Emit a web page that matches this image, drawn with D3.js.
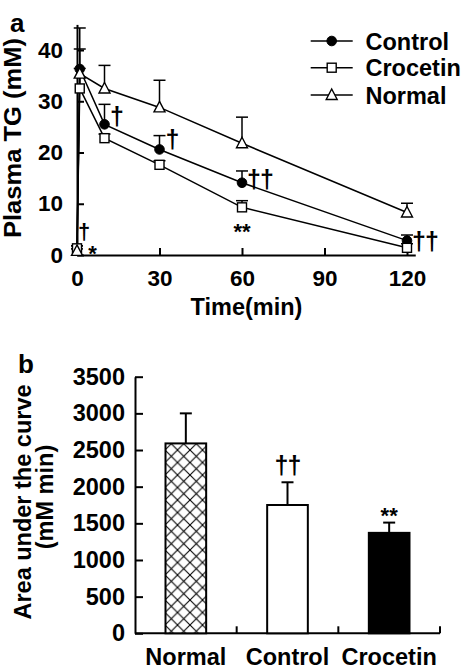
<!DOCTYPE html>
<html>
<head>
<meta charset="utf-8">
<script src="https://cdn.jsdelivr.net/npm/d3@7/dist/d3.min.js"></script>
<style>
  html, body { margin: 0; padding: 0; background: #fff; }
  svg { display: block; }
  text { font-family: "Liberation Sans", Arial, Helvetica, sans-serif; font-weight: bold; fill: #000; }
</style>
</head>
<body>
<svg id="chart" width="465" height="672"></svg>
<script>
// ---------- Data (panel a) ----------
const times = [0, 1, 10, 30, 60, 120];
const controlMean  = [1.2, 36.3, 25.5, 20.6, 14.1, 2.8];
const controlErr   = [0.6, 8.0, 3.9, 2.7, 2.3, 1.1];
const crocetinMean = [1.3, 32.5, 22.8, 17.6, 9.3, 1.4];
const crocetinErr  = [0.5, 7.7, 0.8, 0.8, 1.3, 0.8];
const normalMean   = [0.8, 35.4, 32.5, 28.8, 21.8, 8.3];
const normalErr    = [0.4, 1.0, 4.5, 5.3, 5.1, 1.8];
const seriesNames  = ["Control", "Crocetin", "Normal"];
const xTicksA = [0, 30, 60, 90, 120];
const yTicksA = [0, 10, 20, 30, 40];

// ---------- Data (panel b) ----------
const barCategories = ["Normal", "Control", "Crocetin"];
const aucMean = [2590, 1750, 1370];
const aucErr  = [410, 310, 140];
const yTicksB = [0, 500, 1000, 1500, 2000, 2500, 3000, 3500];

const svg = d3.select("#chart");

// pattern for Normal bar
const defs = svg.append("defs");
const pat = defs.append("pattern")
  .attr("id", "xhatch").attr("patternUnits", "userSpaceOnUse")
  .attr("width", 12.5).attr("height", 12.5).attr("x", 165).attr("y", 0);
pat.append("rect").attr("width", 12.5).attr("height", 12.5).attr("fill", "#fff");
pat.append("path").attr("d", "M0,0L12.5,12.5M12.5,0L0,12.5")
  .attr("stroke", "#000").attr("stroke-width", 1.1).attr("fill", "none");

// ================= Panel a =================
const xA = d3.scaleLinear().domain([0, 123]).range([77, 415.25]);
const yA = d3.scaleLinear().domain([0, 45]).range([255, 24.4]);

const gA = svg.append("g");

const axA_y = gA.append("g").attr("transform", `translate(${xA(0)},0)`)
  .call(d3.axisLeft(yA).tickValues(yTicksA).tickSizeInner(-7).tickSizeOuter(0).tickPadding(14));
const axA_x = gA.append("g").attr("transform", `translate(0,${yA(0)})`)
  .call(d3.axisBottom(xA).tickValues(xTicksA).tickSizeInner(-7).tickSizeOuter(0).tickPadding(15));
[axA_y, axA_x].forEach(a => {
  a.selectAll("path,line").attr("stroke", "#000").attr("stroke-width", 2);
  a.selectAll("text").attr("font-size", 22.5).attr("font-family", null).attr("fill", "#000");
});

const seriesA = [
  {name: "Control",  mean: controlMean,  err: controlErr,  marker: "circle"},
  {name: "Crocetin", mean: crocetinMean, err: crocetinErr, marker: "square"},
  {name: "Normal",   mean: normalMean,   err: normalErr,   marker: "triangle"}
];

const line = d3.line().x(d => xA(d.t)).y(d => yA(d.v));

function drawMarker(g, type, cx, cy) {
  if (type === "circle") {
    g.append("circle").attr("cx", cx).attr("cy", cy).attr("r", 4.8).attr("fill", "#000").attr("stroke", "#000");
  } else if (type === "square") {
    g.append("rect").attr("x", cx - 4.5).attr("y", cy - 4.5).attr("width", 9).attr("height", 9)
      .attr("fill", "#fff").attr("stroke", "#000").attr("stroke-width", 1.4);
  } else {
    g.append("path").attr("d", `M${cx},${cy - 6}L${cx + 5.5},${cy + 4.5}L${cx - 5.5},${cy + 4.5}Z`)
      .attr("fill", "#fff").attr("stroke", "#000").attr("stroke-width", 1.4);
  }
}

// error bars first (behind)
seriesA.forEach(s => {
  times.forEach((t, i) => {
    const x = xA(t), y0 = yA(s.mean[i]), y1 = yA(s.mean[i] + s.err[i]);
    gA.append("line").attr("x1", x).attr("x2", x).attr("y1", y0).attr("y2", y1)
      .attr("stroke", "#000").attr("stroke-width", 1.5);
    gA.append("line").attr("x1", x - 6).attr("x2", x + 6).attr("y1", y1).attr("y2", y1)
      .attr("stroke", "#000").attr("stroke-width", 1.5);
  });
});
// lines
seriesA.forEach(s => {
  gA.append("path").datum(times.map((t, i) => ({t, v: s.mean[i]})))
    .attr("d", line).attr("fill", "none").attr("stroke", "#000").attr("stroke-width", 1.5);
});
// markers
seriesA.forEach(s => {
  times.forEach((t, i) => drawMarker(gA, s.marker, xA(t), yA(s.mean[i])));
});

// significance marks (anchored to data points)
function dagger(g, x, yc, txt, fs) {
  g.append("text").attr("x", x).attr("y", yc + 0.28 * fs).attr("text-anchor", "middle")
    .attr("font-size", fs).attr("font-weight", "normal").attr("letter-spacing", -1).text(txt);
}
function star(g, x, yc, txt, fs) {
  g.append("text").attr("x", x).attr("y", yc + 0.6 * fs).attr("text-anchor", "middle")
    .attr("font-size", fs).text(txt);
}
dagger(gA, xA(10) + 12, yA(controlMean[2]) - 6, "†", 25);
dagger(gA, xA(30) + 12.5, yA(controlMean[3]) - 8, "†", 25);
dagger(gA, xA(60) + 18, yA(controlMean[4]) - 2, "††", 25);
dagger(gA, xA(120) + 18, yA(controlMean[5]) + 2.6, "††", 25);
star(gA, xA(60), yA(crocetinMean[4]) + 18, "**", 22);
dagger(gA, xA(0) + 6.5, yA(controlMean[0]) - 16, "†", 22);
star(gA, xA(0) + 15.5, yA(0) - 7, "*", 22);

// legend
const legY = [41, 67.7, 95];
seriesA.forEach((s, i) => {
  const g = gA.append("g");
  g.append("line").attr("x1", 310.7).attr("x2", 352.7).attr("y1", legY[i]).attr("y2", legY[i])
    .attr("stroke", "#000").attr("stroke-width", 1.5);
  drawMarker(g, s.marker, 331.7, legY[i]);
  g.append("text").attr("x", 365.5).attr("y", legY[i] + 8.5).attr("font-size", 23.5).text(seriesNames[i]);
});

// labels
gA.append("text").attr("x", 10).attr("y", 32).attr("font-size", 26).text("a");
gA.append("text").attr("x", 246.5).attr("y", 315).attr("text-anchor", "middle").attr("font-size", 23.5).text("Time(min)");
gA.append("text").attr("transform", "translate(20.5,138) rotate(-90)").attr("text-anchor", "middle")
  .attr("font-size", 23).attr("textLength", 200).attr("lengthAdjust", "spacingAndGlyphs").text("Plasma TG (mM)");

// ================= Panel b =================
const xB = d3.scaleBand().domain(barCategories).range([135, 440]).padding(0);
const yB = d3.scaleLinear().domain([0, 3500]).range([633.3, 376.7]);
const gB = svg.append("g");
const barW = xB.bandwidth() * 0.4;

const axB_y = gB.append("g").attr("transform", `translate(${xB.range()[0]},0)`)
  .call(d3.axisLeft(yB).tickValues(yTicksB).tickFormat(d3.format("d")).tickSizeInner(-8).tickSizeOuter(0).tickPadding(10));
axB_y.selectAll("path,line").attr("stroke", "#000").attr("stroke-width", 2);
axB_y.selectAll("text").attr("font-size", 23.5).attr("font-family", null).attr("fill", "#000");

// x axis baseline and boundary ticks
gB.append("line").attr("x1", xB.range()[0]).attr("x2", xB.range()[1]).attr("y1", yB(0)).attr("y2", yB(0))
  .attr("stroke", "#000").attr("stroke-width", 2);
barCategories.forEach(c => {
  const xe = xB(c) + xB.bandwidth();
  gB.append("line").attr("x1", xe).attr("x2", xe).attr("y1", yB(0)).attr("y2", yB(0) - 7)
    .attr("stroke", "#000").attr("stroke-width", 2);
});

const fills = ["url(#xhatch)", "#fff", "#000"];
barCategories.forEach((c, i) => {
  const cx = xB(c) + xB.bandwidth() / 2;
  gB.append("line").attr("x1", cx).attr("x2", cx).attr("y1", yB(aucMean[i])).attr("y2", yB(aucMean[i] + aucErr[i]))
    .attr("stroke", "#000").attr("stroke-width", 2);
  gB.append("line").attr("x1", cx - 6).attr("x2", cx + 6).attr("y1", yB(aucMean[i] + aucErr[i])).attr("y2", yB(aucMean[i] + aucErr[i]))
    .attr("stroke", "#000").attr("stroke-width", 2);
  gB.append("rect").attr("x", cx - barW / 2).attr("y", yB(aucMean[i]))
    .attr("width", barW).attr("height", yB(0) - yB(aucMean[i]))
    .attr("fill", fills[i]).attr("stroke", "#000").attr("stroke-width", 2);
  gB.append("text").attr("x", cx).attr("y", 665).attr("text-anchor", "middle").attr("font-size", 23.5).text(c);
});
dagger(gB, xB("Control") + xB.bandwidth() / 2, yB(aucMean[1] + aucErr[1]) - 15.6, "††", 25);
star(gB, xB("Crocetin") + xB.bandwidth() / 2, yB(aucMean[2] + aucErr[2]) - 12.7, "**", 22);

gB.append("text").attr("x", 18).attr("y", 373).attr("font-size", 26).text("b");
gB.append("text").attr("transform", "translate(31,502) rotate(-90)").attr("text-anchor", "middle")
  .attr("font-size", 23.5).text("Area under the curve");
gB.append("text").attr("transform", "translate(53,497) rotate(-90)").attr("text-anchor", "middle")
  .attr("font-size", 23.5).text("(mM min)");
</script>
</body>
</html>
